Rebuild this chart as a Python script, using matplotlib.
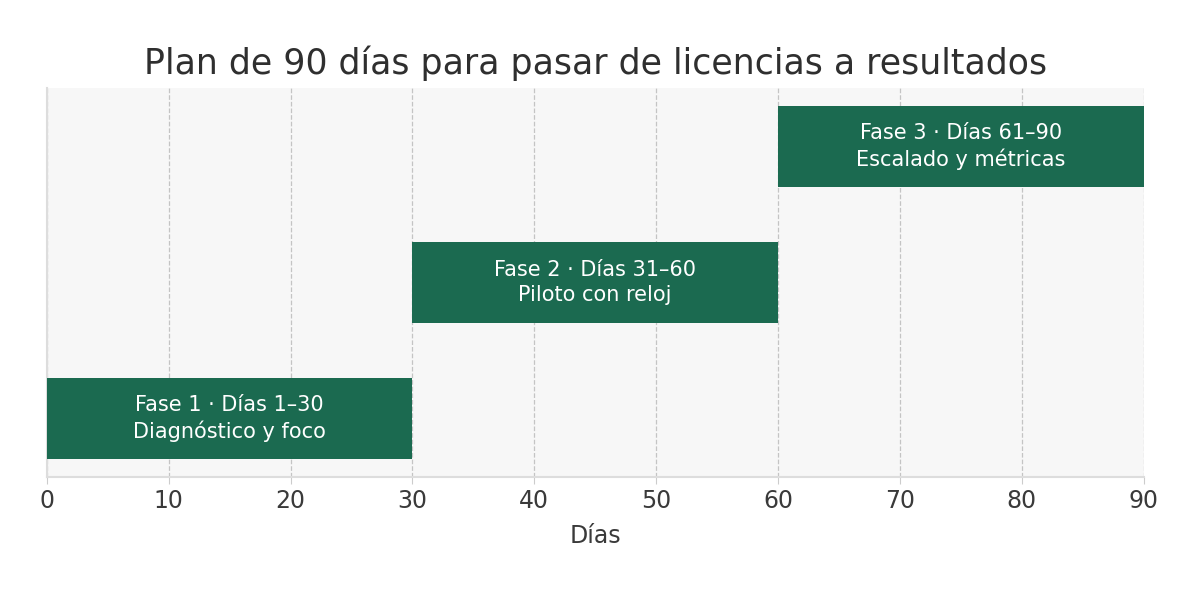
import matplotlib
matplotlib.use("Agg")
import matplotlib.pyplot as plt

# datos de las fases
fases = ["Fase 1 · Días 1–30\nDiagnóstico y foco",
         "Fase 2 · Días 31–60\nPiloto con reloj",
         "Fase 3 · Días 61–90\nEscalado y métricas"]
inicio = [0, 30, 60]
duracion = [30, 30, 30]
filas = [0, 1, 2]
ticks_x = [0, 10, 20, 30, 40, 50, 60, 70, 80, 90]

verde = "#1b6a50"

fig, ax = plt.subplots(figsize=(12, 6), dpi=100)
fig.subplots_adjust(left=0.039, right=0.953, top=0.853, bottom=0.205)
ax.set_facecolor("#f7f7f7")

ax.barh(filas, duracion, left=inicio, height=0.6, color=verde, zorder=3)
for y, x0, w, txt in zip(filas, inicio, duracion, fases):
    ax.text(x0 + w / 2, y, txt, ha="center", va="center", color="white",
            fontsize=15, linespacing=1.3, zorder=4)

ax.set_xlim(0, 90)
ax.set_ylim(-0.43, 2.43)
ax.set_xticks(ticks_x)
ax.set_yticks([])
ax.grid(axis="x", linestyle="--", color="#c4c4c4", linewidth=0.9, zorder=0)
ax.tick_params(axis="x", labelsize=17, colors="#3a3a3a", length=5, color="#cccccc")
for s in ["top", "right"]:
    ax.spines[s].set_visible(False)
for s in ["left", "bottom"]:
    ax.spines[s].set_color("#dddddd")
    ax.spines[s].set_linewidth(1.5)
ax.set_xlabel("Días", fontsize=17, color="#3a3a3a", labelpad=8)
ax.set_title("Plan de 90 días para pasar de licencias a resultados",
             fontsize=25, color="#2f2f2f", pad=10)

fig.savefig("out.png", dpi=100, facecolor="white")
